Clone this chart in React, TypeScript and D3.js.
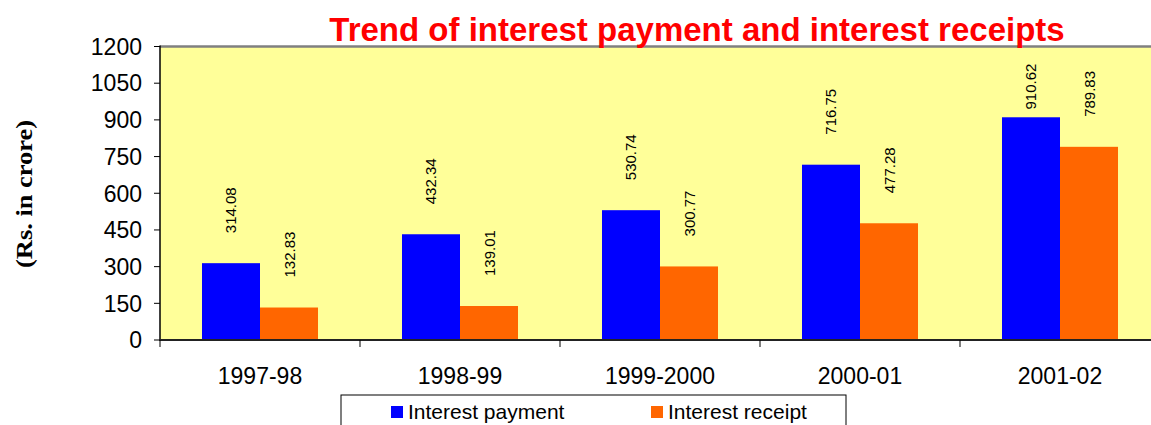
import React from "react";
import * as d3 from "d3";

// chart data
const years = ["1997-98", "1998-99", "1999-2000", "2000-01", "2001-02"];
const interestPayment = [314.08, 432.34, 530.74, 716.75, 910.62];
const interestReceipt = [132.83, 139.01, 300.77, 477.28, 789.83];
const seriesNames = ["Interest payment", "Interest receipt"];
const seriesColors = ["#0000FF", "#FF6600"];
const yTicks = [0, 150, 300, 450, 600, 750, 900, 1050, 1200];

const width = 1151;
const height = 425;
const margin = { top: 46.5, right: -9, bottom: 85, left: 160 };

export default function App() {
  const x = d3
    .scaleBand<string>()
    .domain(years)
    .range([margin.left, width - margin.right]);
  const xInner = d3
    .scaleBand<string>()
    .domain(seriesNames)
    .range([0, x.bandwidth()])
    .paddingInner(0)
    .paddingOuter(0.724);
  const y = d3
    .scaleLinear()
    .domain([0, 1200])
    .range([height - margin.bottom, margin.top]);

  const values = [interestPayment, interestReceipt];
  const plotBottom = height - margin.bottom;
  const labelGap = 30;
  const labelLen = 46;

  // legend box
  const lgX = 341;
  const lgY = 395;

  return (
    <svg
      width={width}
      height={height}
      style={{ position: "absolute", left: 0, top: 0, background: "#fff" }}
      fontFamily="Arial, 'Liberation Sans', sans-serif"
    >
      {/* plot area */}
      <rect
        x={margin.left}
        y={margin.top}
        width={width - margin.right - margin.left}
        height={plotBottom - margin.top}
        fill="#FFFF99"
      />
      <line
        x1={margin.left}
        x2={width}
        y1={margin.top}
        y2={margin.top}
        stroke="#808080"
        strokeWidth={2.5}
      />

      {/* bars */}
      {seriesNames.map((s, si) =>
        years.map((yr, i) => (
          <rect
            key={s + yr}
            x={(x(yr) as number) + (xInner(s) as number)}
            y={y(values[si][i])}
            width={xInner.bandwidth()}
            height={plotBottom - y(values[si][i])}
            fill={seriesColors[si]}
          />
        ))
      )}

      {/* data labels */}
      {seriesNames.map((s, si) =>
        years.map((yr, i) => {
          const cx = (x(yr) as number) + (xInner(s) as number) + xInner.bandwidth() / 2;
          const end = Math.max(y(values[si][i]) - labelGap, margin.top + 17 + labelLen);
          return (
            <text
              key={"l" + s + yr}
              transform={`translate(${cx + 5.5},${end}) rotate(-90)`}
              fontSize={15}
              fill="#000"
            >
              {values[si][i].toFixed(2)}
            </text>
          );
        })
      )}

      {/* y axis */}
      <line
        x1={margin.left}
        x2={margin.left}
        y1={margin.top - 1}
        y2={plotBottom + 1}
        stroke="#000"
        strokeWidth={1.5}
      />
      {yTicks.map((t) => (
        <g key={t}>
          <line x1={margin.left - 6} x2={margin.left} y1={y(t)} y2={y(t)} stroke="#000" />
          <text
            x={margin.left - 18}
            y={y(t)}
            dy="0.36em"
            textAnchor="end"
            fontSize={23}
            fill="#000"
          >
            {t}
          </text>
        </g>
      ))}

      {/* x axis */}
      <line
        x1={margin.left}
        x2={width}
        y1={plotBottom}
        y2={plotBottom}
        stroke="#222"
        strokeWidth={2}
      />
      {years.map((yr) => (
        <g key={"x" + yr}>
          <line
            x1={x(yr) as number}
            x2={x(yr) as number}
            y1={plotBottom}
            y2={plotBottom + 7}
            stroke="#000"
          />
          <text
            x={(x(yr) as number) + x.bandwidth() / 2}
            y={384}
            textAnchor="middle"
            fontSize={23}
            fill="#000"
          >
            {yr}
          </text>
        </g>
      ))}

      {/* y axis title */}
      <text
        transform="translate(32,194) rotate(-90)"
        textAnchor="middle"
        fontFamily="'Times New Roman', 'Liberation Serif', serif"
        fontWeight="bold"
        fontSize={24}
        textLength={148}
        lengthAdjust="spacingAndGlyphs"
        fill="#000"
      >
        (Rs. in crore)
      </text>

      {/* title */}
      <text
        x={697}
        y={41}
        textAnchor="middle"
        fontWeight="bold"
        fontSize={33}
        fill="#FF0000"
      >
        Trend of interest payment and interest receipts
      </text>

      {/* legend */}
      <rect x={lgX} y={lgY} width={505} height={50} fill="#fff" stroke="#000" strokeWidth={1} />
      {seriesNames.map((s, si) => (
        <g key={"lg" + s} transform={`translate(${lgX + 50 + si * 260},${lgY + 11})`}>
          <rect width={12} height={12} fill={seriesColors[si]} />
          <text x={17} y={12.5} fontSize={21} fill="#000">
            {s}
          </text>
        </g>
      ))}
    </svg>
  );
}
